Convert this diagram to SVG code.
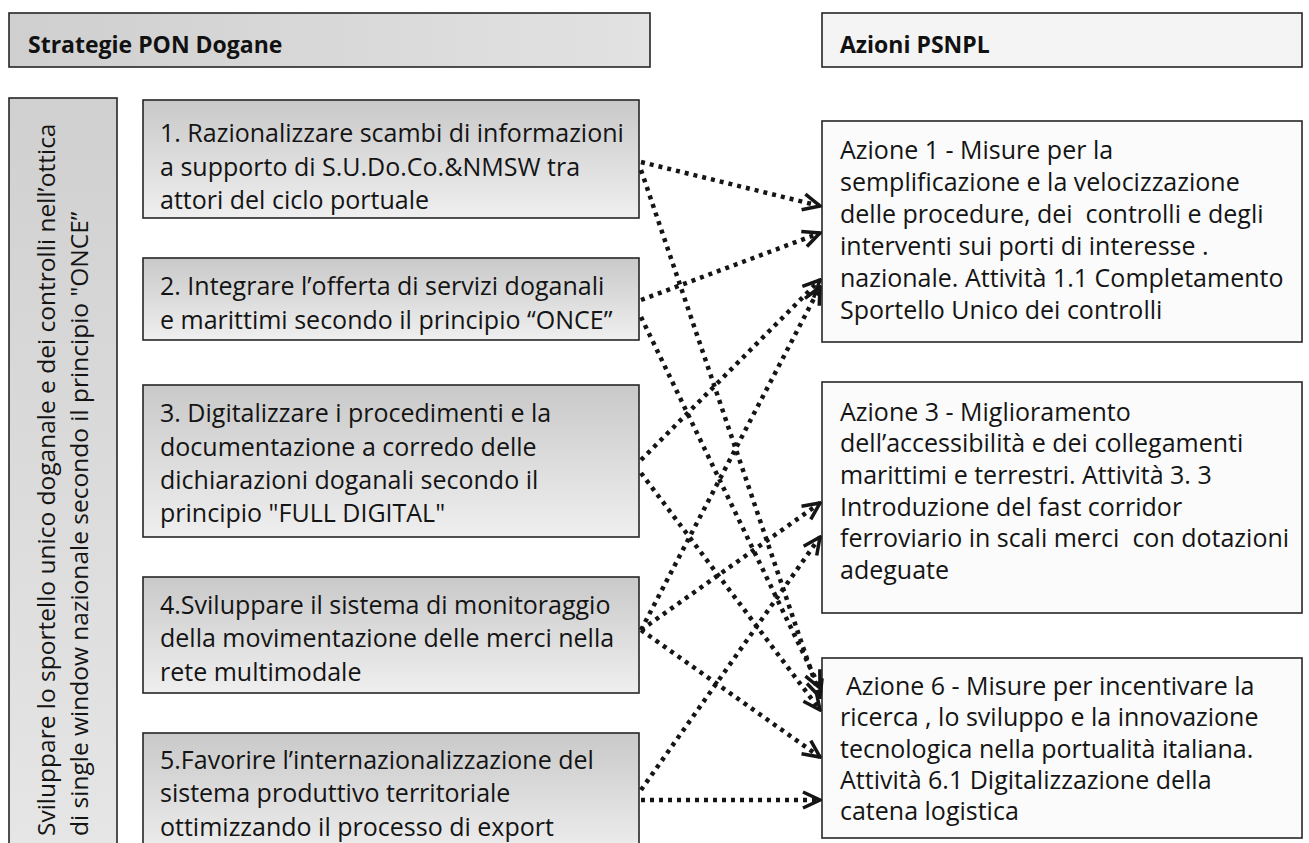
<svg xmlns="http://www.w3.org/2000/svg" width="1309" height="843" viewBox="0 0 1309 843">
<style>
.bx{stroke:#262626;stroke-width:1.6}
.l{fill:url(#gL)}
.r{fill:#fbfbfb}
.t{font-family:"Open Sans","Liberation Sans",sans-serif;font-size:25px;fill:#141414}
.h{font-family:"Open Sans","Liberation Sans",sans-serif;font-size:23px;font-weight:bold;fill:#111}
.v{font-family:"Open Sans","Liberation Sans",sans-serif;font-size:24.5px;fill:#141414}
.c{stroke:#151515;stroke-width:4.5;stroke-dasharray:4 5;fill:none;marker-end:url(#arr)}
</style>
<defs>
<linearGradient id="gL" x1="0" y1="0" x2="0" y2="1">
<stop offset="0" stop-color="#c9c9c9"/>
<stop offset="1" stop-color="#efefef"/>
</linearGradient>
<linearGradient id="gH" x1="0" y1="0" x2="1" y2="0">
<stop offset="0" stop-color="#cfcfcf"/>
<stop offset="1" stop-color="#e2e2e2"/>
</linearGradient>
<linearGradient id="gV" x1="0" y1="0" x2="0" y2="1">
<stop offset="0" stop-color="#d0d0d0"/>
<stop offset="1" stop-color="#e6e6e6"/>
</linearGradient>
<marker id="arr" viewBox="0 0 22 22" refX="20" refY="11" markerWidth="22" markerHeight="22" markerUnits="userSpaceOnUse" orient="auto">
<path d="M3,3 L20,11 L3,19" fill="none" stroke="#151515" stroke-width="3.5"/>
</marker>
</defs>
<rect width="1309" height="843" fill="#ffffff"/>

<g id="header-left">
<rect class="bx" x="9" y="13" width="641" height="54" fill="url(#gH)"/>
<text class="h" x="28" y="53">Strategie PON Dogane</text>
</g>
<g id="header-right">
<rect class="bx" x="822" y="13" width="480" height="54" fill="#f4f4f4"/>
<text class="h" x="840" y="53">Azioni PSNPL</text>
</g>

<g id="vertical">
<rect class="bx" x="9" y="98" width="108" height="760" fill="url(#gV)"/>
<text class="v" transform="translate(55,836) rotate(-90)">Sviluppare lo sportello unico doganale e dei controlli nell’ottica</text>
<text class="v" transform="translate(88,836) rotate(-90)">di single window nazionale secondo il principio "ONCE”</text>
</g>

<g id="s1">
<rect class="bx l" x="143" y="100" width="496" height="118"/>
<text class="t" x="160" y="142">1. Razionalizzare scambi di informazioni</text>
<text class="t" x="160" y="176">a supporto di S.U.Do.Co.&amp;NMSW tra</text>
<text class="t" x="160" y="209">attori del ciclo portuale</text>
</g>
<g id="s2">
<rect class="bx l" x="143" y="258" width="496" height="82"/>
<text class="t" x="160" y="295">2. Integrare l’offerta di servizi doganali</text>
<text class="t" x="160" y="329">e marittimi secondo il principio “ONCE”</text>
</g>
<g id="s3">
<rect class="bx l" x="143" y="385" width="496" height="152"/>
<text class="t" x="160" y="422">3. Digitalizzare i procedimenti e la</text>
<text class="t" x="160" y="456">documentazione a corredo delle</text>
<text class="t" x="160" y="489">dichiarazioni doganali secondo il</text>
<text class="t" x="160" y="522">principio "FULL DIGITAL"</text>
</g>
<g id="s4">
<rect class="bx l" x="143" y="577" width="496" height="116"/>
<text class="t" x="160" y="614">4.Sviluppare il sistema di monitoraggio</text>
<text class="t" x="160" y="647">della movimentazione delle merci nella</text>
<text class="t" x="160" y="681">rete multimodale</text>
</g>
<g id="s5">
<rect class="bx l" x="143" y="733" width="496" height="125"/>
<text class="t" x="160" y="769">5.Favorire l’internazionalizzazione del</text>
<text class="t" x="160" y="802">sistema produttivo territoriale</text>
<text class="t" x="160" y="836">ottimizzando il processo di export</text>
</g>

<g id="a1">
<rect class="bx r" x="822" y="121" width="480" height="221"/>
<text class="t" x="840" y="159">Azione 1 - Misure per la</text>
<text class="t" x="840" y="191">semplificazione e la velocizzazione</text>
<text class="t" x="840" y="223">delle procedure, dei&#160; controlli e degli</text>
<text class="t" x="840" y="255">interventi sui porti di interesse .</text>
<text class="t" x="840" y="287">nazionale. Attività 1.1 Completamento</text>
<text class="t" x="840" y="319">Sportello Unico dei controlli</text>
</g>
<g id="a3">
<rect class="bx r" x="822" y="382" width="480" height="231"/>
<text class="t" x="840" y="421">Azione 3 - Miglioramento</text>
<text class="t" x="840" y="452">dell’accessibilità e dei collegamenti</text>
<text class="t" x="840" y="484">marittimi e terrestri. Attività 3. 3</text>
<text class="t" x="840" y="516">Introduzione del fast corridor</text>
<text class="t" x="840" y="547">ferroviario in scali merci&#160; con dotazioni</text>
<text class="t" x="840" y="579">adeguate</text>
</g>
<g id="a6">
<rect class="bx r" x="822" y="658" width="480" height="180"/>
<text class="t" x="846" y="695">Azione 6 - Misure per incentivare la</text>
<text class="t" x="840" y="726">ricerca , lo sviluppo e la innovazione</text>
<text class="t" x="840" y="758">tecnologica nella portualità italiana.</text>
<text class="t" x="840" y="789">Attività 6.1 Digitalizzazione della</text>
<text class="t" x="840" y="820">catena logistica</text>
</g>

<g id="connectors">
<line class="c" x1="641" y1="162" x2="820" y2="206"/>
<line class="c" x1="641" y1="170" x2="820" y2="697"/>
<line class="c" x1="641" y1="300" x2="820" y2="233"/>
<line class="c" x1="641" y1="317" x2="820" y2="688"/>
<line class="c" x1="641" y1="460" x2="820" y2="280"/>
<line class="c" x1="641" y1="473" x2="820" y2="710"/>
<line class="c" x1="641" y1="630" x2="820" y2="287"/>
<line class="c" x1="641" y1="630" x2="820" y2="503"/>
<line class="c" x1="641" y1="630" x2="820" y2="757"/>
<line class="c" x1="641" y1="790" x2="820" y2="537"/>
<line class="c" x1="641" y1="800" x2="820" y2="800"/>
</g>
</svg>
